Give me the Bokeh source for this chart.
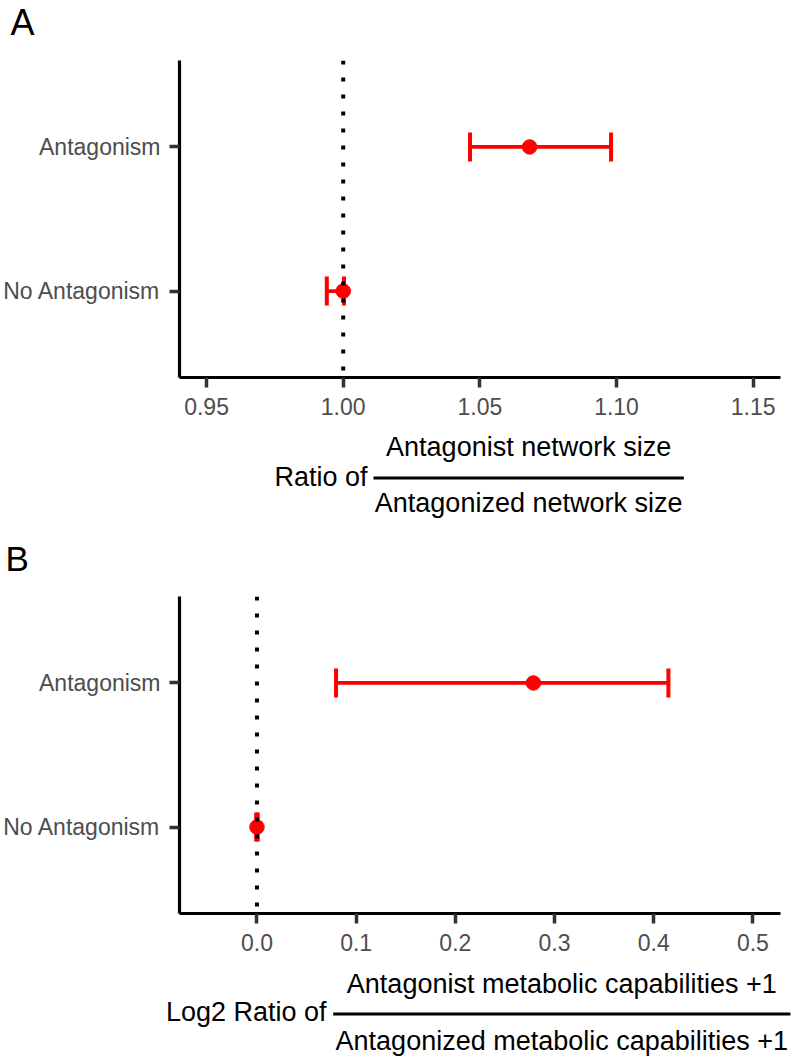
from bokeh.plotting import figure
from bokeh.models import (Range1d, FixedTicker, Span, Whisker, TeeHead,
                          ColumnDataSource, Label)
from bokeh.layouts import column, row
from bokeh.embed import file_html
from bokeh.resources import INLINE

# ---------------- data ----------------
categories = ["Antagonism", "No Antagonism"]

a_mean = [1.0682, 1.0000]
a_lower = [1.0464, 0.9940]
a_upper = [1.0980, 1.0003]
a_ref = 1.0
a_ticks = [0.95, 1.00, 1.05, 1.10, 1.15]
a_tick_labels = ["0.95", "1.00", "1.05", "1.10", "1.15"]

b_mean = [0.2787, 0.0000]
b_lower = [0.0797, -0.0008]
b_upper = [0.4148, 0.0008]
b_ref = 0.0
b_ticks = [0.0, 0.1, 0.2, 0.3, 0.4, 0.5]
b_tick_labels = ["0.0", "0.1", "0.2", "0.3", "0.4", "0.5"]

a_title = ["Ratio of", "Antagonist network size", "Antagonized network size"]
b_title = ["Log2 Ratio of", "Antagonist metabolic capabilities +1",
           "Antagonized metabolic capabilities +1"]

FONT = "Liberation Sans"
W = 793
LEFT = 178
RIGHT = 780
RED = "#ff0000"

cat_pos = [len(categories) - i for i in range(len(categories))]
cat_overrides = {p: c for p, c in zip(cat_pos, categories)}


def make_plot(mean, lower, upper, ref, ticks, labels, xr, height, bottom):
    src = ColumnDataSource(dict(y=cat_pos, mean=mean, lower=lower, upper=upper))
    p = figure(width=W, height=height, x_range=Range1d(*xr), y_range=Range1d(0.4, 2.6),
               min_border_left=LEFT, min_border_right=W - RIGHT, min_border_top=0,
               min_border_bottom=bottom, output_backend="svg", toolbar_location=None)
    p.outline_line_color = None
    p.grid.visible = False
    p.background_fill_color = "white"
    p.border_fill_color = "white"

    p.add_layout(Span(location=ref, dimension="height", line_color="black",
                      line_width=4, line_dash="4 13"))
    w = Whisker(source=src, base="y", lower="lower", upper="upper", dimension="width",
                line_color=RED, line_width=3.8,
                upper_head=TeeHead(size=29, line_color=RED, line_width=4),
                lower_head=TeeHead(size=29, line_color=RED, line_width=4))
    p.add_layout(w)
    p.scatter(x="mean", y="y", source=src, size=14.5, color=RED)

    for ax in (p.xaxis[0], p.yaxis[0]):
        ax.axis_line_color = "black"
        ax.axis_line_width = 3.2
        ax.major_tick_line_color = "#333333"
        ax.major_tick_line_width = 3.5
        ax.major_tick_out = 10
        ax.major_tick_in = 0
        ax.minor_tick_line_color = None
        ax.major_label_text_color = "#4d4d4d"
        ax.major_label_text_font = FONT
    p.xaxis.ticker = FixedTicker(ticks=ticks)
    p.xaxis.major_label_overrides = {t: l for t, l in zip(ticks, labels)}
    p.xaxis.major_label_text_font_size = "23px"
    p.xaxis.major_label_standoff = 10
    p.yaxis.ticker = FixedTicker(ticks=cat_pos)
    p.yaxis.major_label_overrides = cat_overrides
    p.yaxis.major_label_text_font_size = "23px"
    p.yaxis.major_label_standoff = 9
    return p


def blank(height, y0, y1):
    # full-width frame; ranges map 1:1 to page pixels
    f = figure(width=W, height=height, x_range=Range1d(0, W),
               y_range=Range1d(y1, y0), x_axis_type=None, y_axis_type=None,
               min_border_left=0, min_border_right=0,
               min_border_top=0, min_border_bottom=0,
               output_backend="svg", toolbar_location=None)
    f.outline_line_color = None
    f.grid.visible = False
    return f


def put(f, x, baseline, txt, size, align):
    f.add_layout(Label(x=x, y=baseline - 0.3465 * size, text=txt, text_align=align,
                       text_baseline="middle", text_font=FONT,
                       text_font_size=f"{size}px", text_color="black"))


def fraction(f, words, x_right, x0, x1, y_line, base, size):
    put(f, x_right, base[0], words[0], size, "right")
    f.segment(x0=[x0], y0=[y_line], x1=[x1], y1=[y_line], line_color="black",
              line_width=3)
    cx = (x0 + x1) / 2
    put(f, cx, base[1], words[1], size, "center")
    put(f, cx, base[2], words[2], size, "center")


top = blank(60, 0, 60)
put(top, 10, 34.3, "A", 36, "left")

pa = make_plot(a_mean, a_lower, a_upper, a_ref, a_ticks, a_tick_labels,
               (0.9401, 1.1600), 365, 48)

mid = blank(171, 425, 596)
fraction(mid, a_title, 367, 373, 683.3, 477.5, (485.5, 455.5, 512.0), 27)
put(mid, 5, 570, "B", 35, "left")

pb = make_plot(b_mean, b_lower, b_upper, b_ref, b_ticks, b_tick_labels,
               (-0.0781, 0.5278), 364, 47)

bot = blank(96, 960, 1056)
fraction(bot, b_title, 326, 332.7, 790, 1013.5, (1020.5, 992.5, 1049.5), 27)

layout = column(row(top), pa, row(mid), pb, row(bot), spacing=0)
open("out.html", "w").write(file_html(layout, INLINE))
